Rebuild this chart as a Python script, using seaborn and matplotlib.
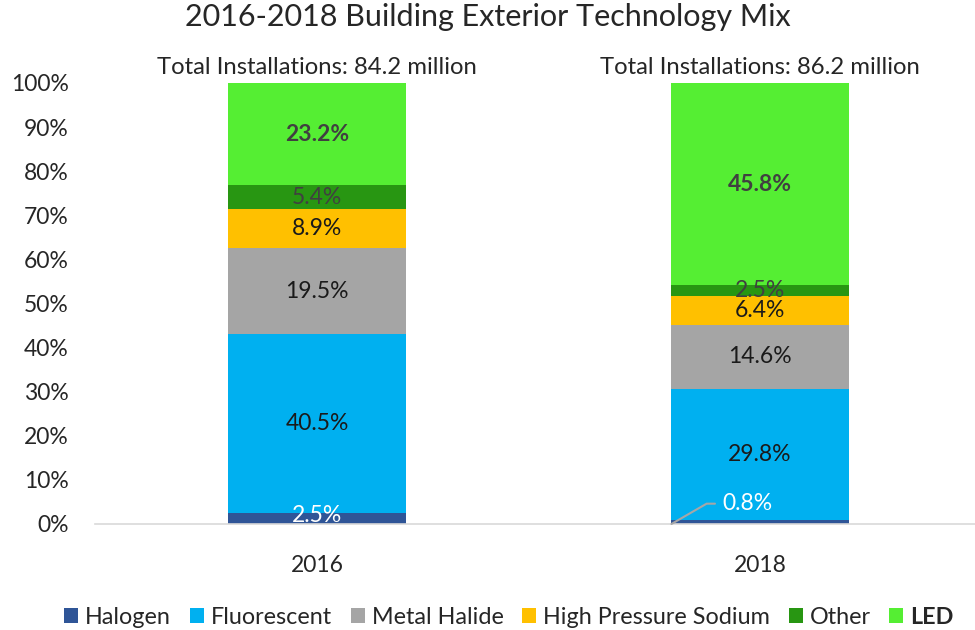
import matplotlib
matplotlib.use("Agg")
import matplotlib.pyplot as plt
import seaborn as sns
import pandas as pd
import numpy as np

years = ["2016", "2018"]
technologies = ["Halogen", "Fluorescent", "Metal Halide", "High Pressure Sodium", "Other", "LED"]
halogen = [2.5, 0.8]
fluorescent = [40.5, 29.8]
metal_halide = [19.5, 14.6]
hps = [8.9, 6.4]
other = [5.4, 2.5]
led = [23.2, 45.8]
totals = ["84.2", "86.2"]

colors = ["#2F5597", "#00B0F0", "#A5A5A5", "#FFC000", "#289612", "#55EE33"]
label_colors = ["white", "#1A1A1A", "#1A1A1A", "#1A1A1A", "#404040", "#404040"]
label_bold = [False, False, False, False, False, True]
text_color = "#262626"
fs = 16.5

sns.set_theme(style="white")
plt.rcParams["font.family"] = ["Lato", "DejaVu Sans"]

series = [halogen, fluorescent, metal_halide, hps, other, led]
df = pd.DataFrame({"year": years})
for name, vals in zip(technologies, series):
    df[name] = vals
cum = df[technologies].cumsum(axis=1)

fig = plt.figure(figsize=(9.75, 6.3), dpi=100)
ax = fig.add_axes([0.0974, 0.1683, 0.9026, 0.7000])

# Draw cumulative heights from the top segment down so each layer covers the one above
for i in range(len(technologies) - 1, -1, -1):
    tmp = pd.DataFrame({"year": years, "val": cum[technologies[i]].values})
    sns.barplot(data=tmp, x="year", y="val", color=colors[i], width=0.40,
                saturation=1, ax=ax, linewidth=0, label=technologies[i], legend=False)

# Segment labels
for j in range(len(years)):
    for i, name in enumerate(technologies):
        v = df.loc[j, name]
        top = cum.loc[j, name]
        mid = top - v / 2
        txt = f"{v:.1f}%"
        weight = "bold" if label_bold[i] else "normal"
        if name == "Halogen" and v < 1.5:
            ax.annotate(txt, xy=(j - 0.2, 0), xytext=(j - 0.085, 4.6),
                        color=label_colors[i], fontsize=fs, ha="left", va="center",
                        arrowprops=dict(arrowstyle="-", color="#A6A6A6", lw=1.5,
                                        connectionstyle="angle,angleA=0,angleB=30,rad=0",
                                        shrinkA=3, shrinkB=0))
        else:
            if name == "Halogen":
                mid += 0.6
            ax.text(j, mid, txt, ha="center", va="center", fontsize=fs,
                    color=label_colors[i], fontweight=weight)
    ax.text(j, 101.2, f"Total Installations: {totals[j]} million", ha="center",
            va="bottom", fontsize=17.2, color=text_color)

ax.set_ylim(0, 100)
ax.set_xlim(-0.501, 1.485)
ax.set_yticks(np.arange(0, 101, 10))
ax.set_yticklabels([f"{t}%" for t in range(0, 101, 10)], fontsize=fs, color=text_color)
ax.tick_params(axis="x", labelsize=fs, pad=16, labelcolor=text_color)
ax.tick_params(axis="y", pad=13)
ax.set_xlabel("")
ax.set_ylabel("")
for s in ["top", "right", "left"]:
    ax.spines[s].set_visible(False)
ax.spines["bottom"].set_color("#D9D9D9")
ax.spines["bottom"].set_linewidth(1.2)

fig.suptitle("2016-2018 Building Exterior Technology Mix", fontsize=22, y=0.995,
             color=text_color)

handles, labels = ax.get_legend_handles_labels()
order = [labels.index(t) for t in technologies]
leg = fig.legend([handles[k] for k in order], [labels[k] for k in order],
                 loc="lower center", bbox_to_anchor=(0.522, -0.03), ncol=6, frameon=False,
                 fontsize=16.8, handlelength=0.6, handleheight=0.6, handletextpad=0.3,
                 columnspacing=0.8)
for t in leg.get_texts():
    t.set_color(text_color)
    if t.get_text() == "LED":
        t.set_fontweight("bold")

fig.savefig("out.png", dpi=100)
